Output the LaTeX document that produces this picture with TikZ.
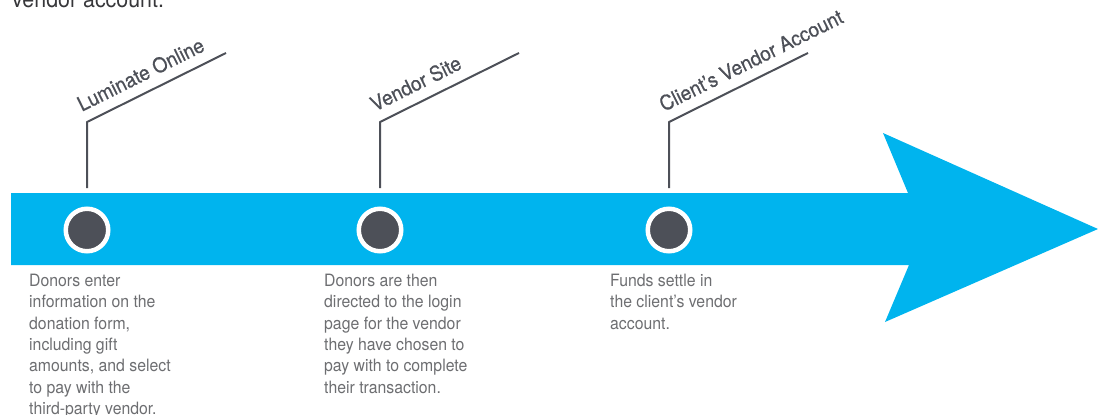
\documentclass[tikz,border=0pt]{standalone}
\usepackage{fontspec}
\setmainfont[FakeStretch=0.93]{TeX Gyre Heros}
\newfontfamily\labelfont[FakeStretch=0.93, FakeBold=0.6]{TeX Gyre Heros}
\usetikzlibrary{positioning}
\definecolor{timeblue}{RGB}{0,180,238}
\definecolor{markgray}{RGB}{77,80,88}
\definecolor{textgray}{RGB}{109,110,113}
\definecolor{leadgray}{RGB}{55,55,58}
\tikzset{
  dot/.style={circle, fill=markgray, draw=white, line width=4.5pt, minimum size=42.5pt, inner sep=0pt},
  leader/.style={draw=markgray, line width=2pt, line join=round},
  steplabel/.style={font=\labelfont\fontsize{20.5}{20.5}\selectfont, text=markgray, inner sep=0pt, outer xsep=0pt, outer ysep=11pt},
  desc/.style={font=\fontsize{17}{21.3}\selectfont, text=textgray, align=left, anchor=north west, inner sep=0pt}
}
\begin{document}
\begin{tikzpicture}[x=1pt, y=-1pt]
	\useasboundingbox (0,0) rectangle (1098,415);
	\clip (0,0) rectangle (1098,415);
	% end of the paragraph above
	\node[font=\fontsize{23}{23}\selectfont, text=leadgray, anchor=base west, inner sep=0pt] (lead) at (12,7) {vendor account.};
	% timeline arrow
	\fill[timeblue] (11,193) -- (908,193) -- (883,133) -- (1098,229) -- (885,322) -- (909,265) -- (11,265) -- cycle;
	\foreach \n/\x in {1/87, 2/380, 3/669}{
		\node[dot] (d\n) at (\x,230) {};
		\coordinate (b\n) at (\x,188);
		\coordinate (k\n) at (\x,122);
		\coordinate (e\n) at (\x+139,53);
		\draw[leader] (b\n) -- (k\n) -- (e\n);
	}
	\path (k1) -- (e1) node[steplabel, sloped, pos=0, anchor=south west] (l1) {Luminate Online};
	\path (k2) -- (e2) node[steplabel, sloped, pos=0, anchor=south west] (l2) {Vendor Site};
	\path (k3) -- (e3) node[steplabel, sloped, pos=0, anchor=south west] (l3) {Client’s Vendor Account};
	% descriptions
	\node[desc] (t1) at (29,274) {Donors enter\\information on the\\donation form,\\including gift\\amounts, and select\\to pay with the\\third-party vendor.};
	\node[desc] (t2) at (324,274) {Donors are then\\directed to the login\\page for the vendor\\they have chosen to\\pay with to complete\\their transaction.};
	\node[desc] (t3) at (610,274) {Funds settle in\\the client’s vendor\\account.};
\end{tikzpicture}
\end{document}
